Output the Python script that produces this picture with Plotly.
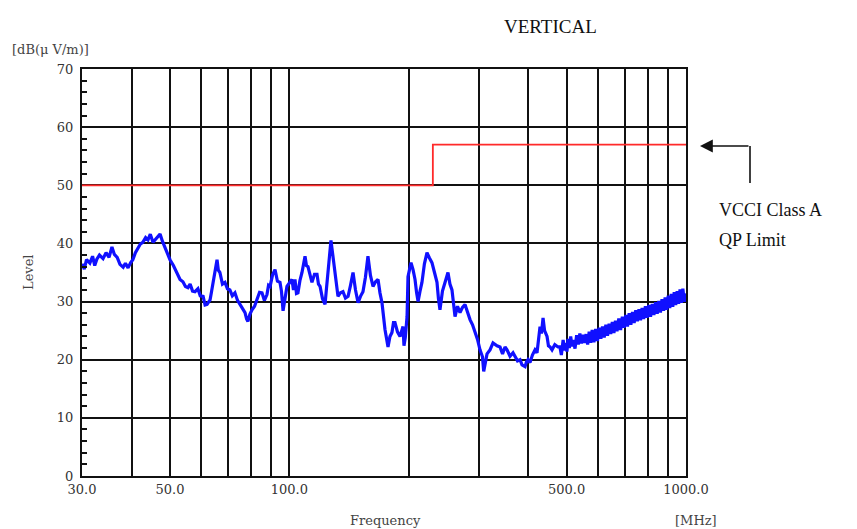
import plotly.graph_objects as go

# ---- data ----
freq_mhz = [
    30.0, 30.4, 30.8, 31.4, 31.9, 32.3, 32.7, 33.2, 33.9, 34.5, 35.1, 35.7, 36.2, 36.8, 37.4,
    38.1, 38.6, 39.2, 39.8, 40.3, 40.9, 41.5, 42.1, 42.7, 43.4, 44.0, 44.6, 45.3, 46.2, 47.2,
    47.9, 48.6, 49.3, 50.0, 51.0, 52.1, 53.0, 53.9, 54.7, 55.5, 56.2,
    57.0, 57.8, 58.8, 59.6, 60.6, 61.3, 62.0, 63.1, 63.6, 64.2, 65.0, 65.7, 66.2, 66.8, 67.8,
    68.8, 69.8, 70.8, 71.8, 72.9, 74.0, 75.1, 76.2, 77.3, 78.0, 78.6, 79.5, 80.5, 81.7, 82.9,
    84.1, 85.3, 86.5, 87.8, 88.6, 89.4, 90.7, 92.0, 93.3, 94.7, 95.5, 96.4, 97.5, 98.6, 100.0,
    101.5, 102.4, 103.3, 104.2, 105.1, 106.3, 107.6, 109.5, 110.4, 111.4, 112.7, 114.0, 115.7,
    117.4, 118.4, 119.5, 121.2, 123.0, 124.0, 125.1, 126.2, 127.3, 128.4, 129.6, 131.1, 132.6,
    134.5, 136.5, 138.5, 140.6, 142.6, 144.7, 146.8, 149.0, 151.1, 153.3, 155.5, 157.8, 160.1,
    162.5, 164.9, 167.3, 169.2, 171.2, 174.2, 175.7, 177.3, 179.3, 181.4, 183.0, 184.6, 187.3,
    190.1, 193.4, 194.5, 196.0, 198.0, 199.1, 202.6, 205.0, 207.4, 209.3, 211.1, 213.5, 215.9,
    219.0, 222.3, 225.5, 228.8, 232.2, 235.6, 237.6, 239.7, 243.2, 246.8, 251.1, 254.0, 257.0,
    261.6, 265.4, 269.3, 273.2, 277.2, 281.3, 285.4, 289.6, 293.8, 298.1, 302.4, 306.8, 309.0,
    311.3, 315.0, 320.5, 326.1, 333.8, 339.7, 344.7, 349.7, 353.8, 360.0, 366.3, 370.6, 376.0,
    381.5, 386.0, 392.8, 396.0, 399.7, 404.3, 410.0, 416.2, 421.1, 428.5, 432.0, 436.1, 440.0,
    446.3, 450.0, 454.1, 459.4, 467.0, 475.7,
    481.0, 485.0, 490.0, 494.0, 497.0, 501.0, 504.0, 508.0, 512.0, 516.0, 520.0, 525.0, 530.0,
    535.0, 540.0, 545.0, 550.0, 555.0, 560.0, 565.0, 570.0, 575.0, 580.0, 586.0, 592.0, 598.0,
    604.0, 610.0, 616.0, 622.0, 628.0, 634.0, 640.0, 646.0, 652.0, 658.0, 664.0, 670.0, 677.0,
    684.0, 691.0, 698.0, 705.0, 712.0, 719.0, 726.0, 733.0, 740.0, 747.0, 754.0, 761.0, 768.0,
    775.0, 782.0, 790.0, 798.0, 806.0, 814.0, 822.0, 830.0, 838.0, 846.0, 854.0, 862.0, 870.0,
    878.0, 886.0, 894.0, 902.0, 910.0, 918.0, 926.0, 934.0, 942.0, 950.0, 958.0, 966.0, 974.0,
    982.0, 990.0, 1000.0,
]
level_dbuv = [
    36.5, 35.6, 37.2, 36.6, 37.8, 36.2, 37.3, 38.0, 37.4, 38.4, 37.6, 39.4, 38.1, 37.6, 36.4,
    35.9, 36.6, 35.8, 36.7, 37.2, 38.4, 39.1, 39.9, 40.2, 41.0, 40.6, 41.6, 40.2, 40.9, 41.6,
    40.3, 39.3, 38.0, 37.2, 36.2, 35.0, 33.8, 33.4, 32.6, 32.4, 33.0,
    31.8, 31.7, 32.2, 31.0, 30.9, 29.4, 29.5, 30.3, 31.6, 33.3, 35.0, 37.2, 35.4, 35.0, 33.0,
    33.3, 32.2, 32.0, 31.0, 31.5, 30.2, 29.5, 28.6, 28.1, 27.0, 26.6, 27.8, 28.6, 29.2, 30.3,
    31.6, 31.5, 30.2, 31.2, 32.8, 32.6, 34.6, 35.5, 33.5, 33.3, 31.8, 28.4, 30.9, 32.6, 33.2,
    33.8, 32.0, 33.8, 31.4, 31.5, 33.6, 35.0, 37.8, 36.2, 36.0, 34.4, 33.3, 34.7,
    34.7, 33.0, 32.6, 30.5, 29.5, 32.2, 35.5, 38.0, 40.5, 38.5, 36.0, 32.8, 30.9,
    31.5, 31.7, 30.6, 30.9, 32.8, 35.0, 32.0, 29.8, 30.9, 31.7, 34.2, 37.8, 34.5,
    32.6, 33.4, 33.8, 31.5, 29.8, 25.2, 23.5, 22.2, 24.0, 24.7, 26.4, 26.4, 24.8,
    24.0, 25.7, 22.4, 23.8, 27.4, 34.3, 36.7, 35.5, 33.8, 31.5, 30.0, 31.8, 33.3,
    36.5, 38.4, 37.5, 36.7, 35.0, 33.3, 30.5, 28.6, 31.8, 33.3, 35.0, 33.0, 32.0,
    27.4, 29.2, 28.1, 29.0, 29.5, 28.0, 26.9, 26.0, 24.7, 23.5, 21.7, 20.5, 18.0,
    19.5, 21.0, 21.7, 22.9, 22.4, 22.2, 21.0, 22.2, 21.7, 20.6, 21.2, 20.5, 19.8,
    20.0, 19.1, 18.8, 19.6, 20.0, 19.5, 20.8, 21.7, 21.2, 25.7, 24.5, 27.2, 25.0,
    24.0, 22.4, 22.2, 21.7, 22.6, 22.2,
    22.2, 20.8, 23.4, 21.6, 22.9, 21.4, 23.6, 22.0, 24.0, 22.3, 23.4, 21.9, 24.2,
    22.6, 24.5, 22.8, 24.3, 22.9, 24.4, 22.6, 24.8, 22.9, 25.1, 23.0, 25.3, 23.2,
    25.5, 23.6, 25.7, 23.8, 26.0, 24.1, 26.2, 24.4, 26.5, 24.6, 26.7, 24.9, 27.1,
    25.1, 27.4, 25.5, 27.7, 25.7, 28.0, 26.0, 28.2, 26.3, 28.5, 26.6, 28.7, 26.8,
    28.9, 27.0, 29.2, 27.2, 29.4, 27.4, 29.6, 27.7, 29.9, 27.9, 30.1, 28.1, 30.4,
    28.4, 30.7, 28.6, 31.0, 28.9, 31.3, 29.1, 31.6, 29.4, 31.8, 29.6, 32.1, 29.8,
    32.2, 30.0, 31.4,
]

limit_freq = [30, 230, 230, 1000]
limit_level = [50, 50, 57, 57]

x_tick_vals = [30, 50, 100, 500, 1000]
x_tick_text = ["30.0", "50.0", "100.0", "500.0", "1000.0"]
x_grid_vals = [40, 60, 70, 80, 90, 200, 300, 400, 600, 700, 800, 900]

# ---- figure ----
fig = go.Figure()
fig.add_trace(go.Scatter(
    x=freq_mhz, y=level_dbuv, mode="lines",
    line=dict(color="#1010ff", width=3.2), showlegend=False,
))
fig.add_trace(go.Scatter(
    x=limit_freq, y=limit_level, mode="lines",
    line=dict(color="#ff2a2a", width=1.8), showlegend=False,
))

tick_font = dict(family="DejaVu Serif", size=13, color="#333333")
fig.update_layout(
    width=857, height=529,
    margin=dict(l=82, r=171, t=69, b=53),
    paper_bgcolor="white", plot_bgcolor="white",
    xaxis=dict(
        type="log", range=[1.4771213, 3.0],
        tickmode="array", tickvals=x_tick_vals, ticktext=x_tick_text,
        ticks="", showgrid=True, gridcolor="#111111", gridwidth=1.6,
        showline=True, linecolor="#111111", linewidth=2, mirror=True,
        tickfont=tick_font, zeroline=False,
        minor=dict(tickvals=x_grid_vals, showgrid=True, gridcolor="#111111",
                   gridwidth=1.6, ticks=""),
    ),
    yaxis=dict(
        range=[0, 70], tickmode="linear", tick0=0, dtick=10,
        ticks="", showgrid=True, gridcolor="#111111", gridwidth=1.6,
        showline=True, linecolor="#111111", linewidth=2, mirror=True,
        tickfont=tick_font, zeroline=False, ticklabelstandoff=4,
        minor=dict(dtick=2, ticks="inside", ticklen=5, tickwidth=1.5,
                   tickcolor="#111111", showgrid=False),
    ),
)

def px_x(px):
    return (px - 82) / 604.0

def px_y(py):
    return (476 - py) / 407.0

serif = "Liberation Serif"
annos = [
    dict(text="[dB(\u03bc V/m)]", x=px_x(10), y=px_y(50), xanchor="left", yanchor="middle",
         font=dict(family="DejaVu Serif", size=13, color="#444444")),
    dict(text="Frequency", x=px_x(385), y=px_y(520), xanchor="center", yanchor="middle",
         font=dict(family="DejaVu Serif", size=13, color="#444444")),
    dict(text="[MHz]", x=px_x(696), y=px_y(520), xanchor="center", yanchor="middle",
         font=dict(family="DejaVu Serif", size=13, color="#444444")),
    dict(text="Level", x=px_x(28), y=px_y(272), xanchor="center", yanchor="middle",
         textangle=-90, font=dict(family="DejaVu Serif", size=13, color="#444444")),
    dict(text="VERTICAL", x=px_x(550), y=px_y(27), xanchor="center", yanchor="middle",
         font=dict(family=serif, size=19, color="#111111")),
    dict(text="VCCI Class A", x=px_x(717), y=px_y(210), xanchor="left", yanchor="middle",
         font=dict(family=serif, size=18, color="#111111")),
    dict(text="QP Limit", x=px_x(717), y=px_y(240), xanchor="left", yanchor="middle",
         font=dict(family=serif, size=18, color="#111111")),
]
for a in annos:
    a.update(xref="paper", yref="paper", showarrow=False)
    fig.add_annotation(**a)

# arrow pointing to the limit line
fig.add_annotation(
    xref="paper", yref="paper", x=px_x(700), y=px_y(146), text="",
    showarrow=True, ax=50, ay=0, arrowhead=2, arrowsize=1.6, arrowwidth=1.6,
    arrowcolor="#111111",
)
fig.add_shape(
    type="line", xref="paper", yref="paper",
    x0=px_x(750), y0=px_y(146), x1=px_x(750), y1=px_y(183),
    line=dict(color="#111111", width=1.6),
)

fig.write_html("out.html")
